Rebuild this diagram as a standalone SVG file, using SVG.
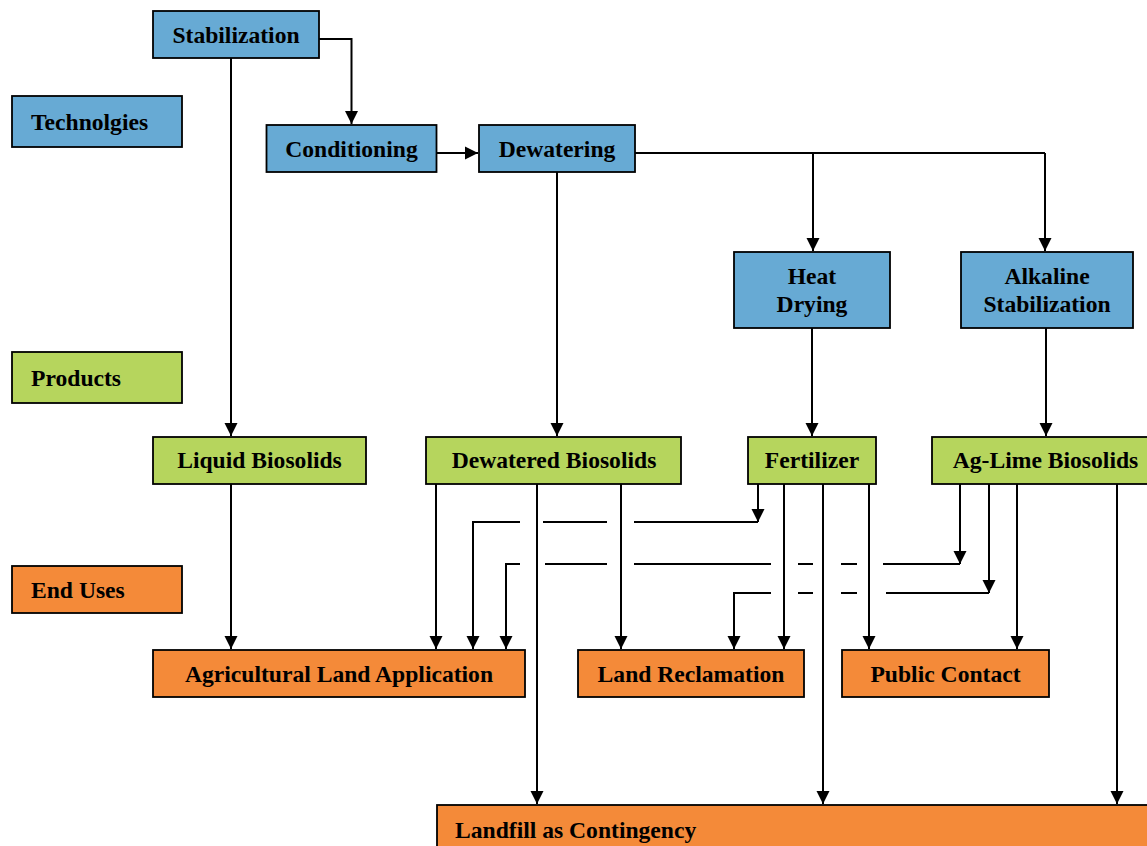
<svg xmlns="http://www.w3.org/2000/svg" width="1147" height="846" viewBox="0 0 1147 846">
  <style>
    .box { stroke: #000; stroke-width: 1.8; }
    .tech { fill: #67aad4; }
    .prod { fill: #b6d55d; }
    .use { fill: #f48a39; }
    text { font-family: "Liberation Serif", "Times New Roman", serif; font-weight: bold; font-size: 23.6px; fill: #000; }
    .c { text-anchor: middle; }
    .wire { fill: none; stroke: #000; stroke-width: 2; }
    .arrow { marker-end: url(#head); }
  </style>
  <defs>
    <marker id="head" markerUnits="userSpaceOnUse" markerWidth="14" markerHeight="14" refX="13.5" refY="6.75" orient="auto">
      <path d="M0,0 L13.5,6.75 L0,13.5 z" fill="#000"/>
    </marker>
  </defs>

  <rect width="1147" height="846" fill="#fff"/>

  <!-- connectors -->
  <g id="connectors">
    <!-- technologies chain -->
    <path class="wire arrow" d="M319,39 H351.5 V124"/>
    <path class="wire arrow" d="M231,58 V436"/>
    <path class="wire arrow" d="M436,153 H478"/>
    <path class="wire arrow" d="M557,171 V436"/>
    <path class="wire" d="M635,153 H1045"/>
    <path class="wire arrow" d="M813,153 V251"/>
    <path class="wire arrow" d="M1045,153 V251"/>
    <path class="wire arrow" d="M812,328 V436"/>
    <path class="wire arrow" d="M1046,328 V436"/>

    <!-- liquid biosolids -->
    <path class="wire arrow" d="M231,484 V649"/>

    <!-- dewatered biosolids -->
    <path class="wire arrow" d="M436,484 V649"/>
    <path class="wire arrow" d="M537,484 V804"/>
    <path class="wire arrow" d="M621,484 V649"/>

    <!-- fertilizer -->
    <path class="wire arrow" d="M758,484 V522"/>
    <path class="wire arrow" d="M758,522 H634 M607,522 H543 M520,522 H473 V649"/>
    <path class="wire arrow" d="M784,484 V649"/>
    <path class="wire arrow" d="M823,484 V804"/>
    <path class="wire arrow" d="M869,484 V649"/>

    <!-- ag-lime biosolids -->
    <path class="wire arrow" d="M960,484 V564"/>
    <path class="wire arrow" d="M960,564 H883 M857,564 H841 M813,564 H798 M771,564 H634 M607,564 H545 M520,564 H506 V649"/>
    <path class="wire arrow" d="M989,484 V593"/>
    <path class="wire arrow" d="M989,593 H886 M857,593 H841 M813,593 H798 M771,593 H734 V649"/>
    <path class="wire arrow" d="M1017,484 V649"/>
    <path class="wire arrow" d="M1117,484 V804"/>
  </g>

  <!-- row labels -->
  <g id="label-technologies">
    <rect class="box tech" x="12" y="96" width="170" height="51"/>
    <text x="31" y="130">Technolgies</text>
  </g>
  <g id="label-products">
    <rect class="box prod" x="12" y="352" width="170" height="51"/>
    <text x="31" y="386">Products</text>
  </g>
  <g id="label-enduses">
    <rect class="box use" x="12" y="566" width="170" height="47"/>
    <text x="31" y="598">End Uses</text>
  </g>

  <!-- technologies -->
  <g id="stabilization">
    <rect class="box tech" x="153" y="11" width="166" height="47"/>
    <text class="c" x="236" y="43">Stabilization</text>
  </g>
  <g id="conditioning">
    <rect class="box tech" x="266.5" y="125" width="170" height="47"/>
    <text class="c" x="351.5" y="157">Conditioning</text>
  </g>
  <g id="dewatering">
    <rect class="box tech" x="479" y="125" width="156" height="47"/>
    <text class="c" x="557" y="157">Dewatering</text>
  </g>
  <g id="heat-drying">
    <rect class="box tech" x="734" y="252" width="156" height="76"/>
    <text class="c" x="812" y="284">Heat</text>
    <text class="c" x="812" y="312">Drying</text>
  </g>
  <g id="alkaline-stabilization">
    <rect class="box tech" x="961" y="252" width="172" height="76"/>
    <text class="c" x="1047" y="284">Alkaline</text>
    <text class="c" x="1047" y="312">Stabilization</text>
  </g>

  <!-- products -->
  <g id="liquid-biosolids">
    <rect class="box prod" x="153" y="437" width="213" height="47"/>
    <text class="c" x="259.5" y="468">Liquid Biosolids</text>
  </g>
  <g id="dewatered-biosolids">
    <rect class="box prod" x="426" y="437" width="255" height="47"/>
    <text class="c" x="554" y="468">Dewatered Biosolids</text>
  </g>
  <g id="fertilizer">
    <rect class="box prod" x="748" y="437" width="128" height="47"/>
    <text class="c" x="812" y="468">Fertilizer</text>
  </g>
  <g id="ag-lime-biosolids">
    <rect class="box prod" x="932" y="437" width="228" height="47"/>
    <text class="c" x="1045.5" y="468">Ag-Lime Biosolids</text>
  </g>

  <!-- end uses -->
  <g id="agricultural-land-application">
    <rect class="box use" x="153" y="650" width="372" height="47"/>
    <text class="c" x="339" y="682">Agricultural Land Application</text>
  </g>
  <g id="land-reclamation">
    <rect class="box use" x="578" y="650" width="226" height="47"/>
    <text class="c" x="691" y="682">Land Reclamation</text>
  </g>
  <g id="public-contact">
    <rect class="box use" x="842" y="650" width="207" height="47"/>
    <text class="c" x="945.5" y="682">Public Contact</text>
  </g>
  <g id="landfill-contingency">
    <rect class="box use" x="437" y="805" width="740" height="60"/>
    <text x="455" y="838">Landfill as Contingency</text>
  </g>
</svg>
